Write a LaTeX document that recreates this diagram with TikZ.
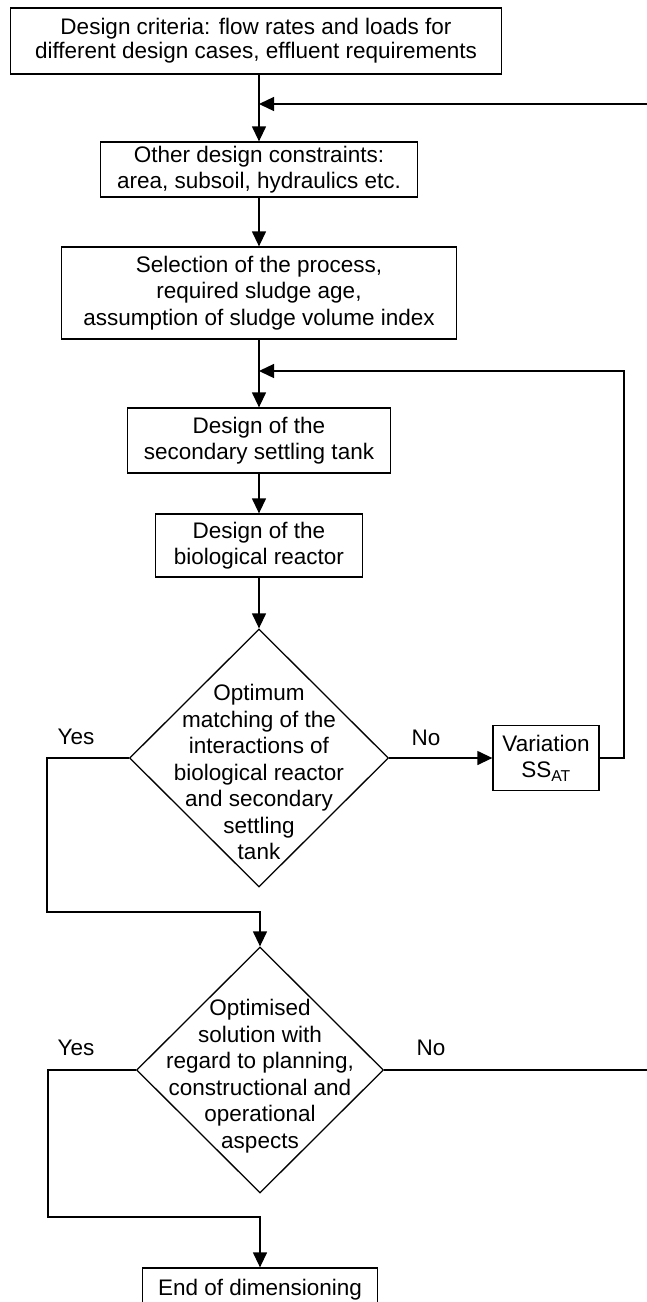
\documentclass[tikz,border=0pt]{standalone}
\usepackage{fontspec}
\setmainfont{Liberation Sans}
\usetikzlibrary{arrows.meta,shapes.geometric}
\begin{document}
\begin{tikzpicture}[x=1pt,y=-1pt,
  every node/.style={font=\fontsize{22.5}{26.5}\selectfont},
  box/.style={draw, line width=1.3pt, inner sep=0pt, align=center},
  dec/.style={draw, diamond, line width=1.3pt, inner sep=0pt, aspect=1},
  txt/.style={align=center, inner sep=0pt},
  conn/.style={line width=1.3pt},
  arr/.style={conn, -{Triangle[length=15pt,width=14pt]}},
]
\path[use as bounding box, clip] (0,0) rectangle (647,1302);
\fill[white] (0,0) rectangle (647,1302);

% boxes
\node[box, minimum width=491pt, minimum height=66pt, font=\fontsize{22.5}{24}\selectfont] (b1) at (256,41)
  {Design criteria: flow rates and loads for\\different design cases, effluent requirements};
\node[box, minimum width=317pt, minimum height=55pt] (b2) at (259,169.5)
  {Other design constraints:\\area, subsoil, hydraulics etc.};
\node[box, minimum width=395pt, minimum height=92pt] (b3) at (259,293)
  {Selection of the process,\\required sludge age,\\assumption of sludge volume index};
\node[box, minimum width=263pt, minimum height=65pt] (b4) at (259,440.5)
  {Design of the\\secondary settling tank};
\node[box, minimum width=207pt, minimum height=63pt] (b5) at (259,545.5)
  {Design of the\\biological reactor};
\node[dec, minimum width=259pt, minimum height=258pt] (d1) at (259,758) {};
\node[txt] (t1) at (259,772)
  {Optimum\\matching of the\\interactions of\\biological reactor\\and secondary\\settling\\tank};
\node[box, minimum width=106pt, minimum height=65pt] (v) at (546,758)
  {Variation\\SS\textsubscript{AT}};
\node[dec, minimum width=247pt, minimum height=246pt] (d2) at (260,1070) {};
\node[txt] (t2) at (260,1076)
  {Optimised\\solution with\\regard to planning,\\constructional and\\operational\\aspects};
\node[box, minimum width=235pt, minimum height=44pt] (e) at (260,1290)
  {End of dimensioning};

% labels
\node (no1) at (426,738) {No};
\node (yes1) at (76,737) {Yes};
\node (no2) at (431,1048) {No};
\node (yes2) at (76,1048) {Yes};

% connectors
\coordinate (e1) at (647,104);
\coordinate (j1) at (259,104);
\coordinate (j2) at (259,371);
\coordinate (c2) at (624,371);
\coordinate (ya) at (47,758);
\coordinate (yb) at (47,912);
\coordinate (e2) at (647,1070);
\coordinate (yc) at (48,1070);
\coordinate (yd) at (48,1217);

\draw[arr] (b2.north |- b1.south) -- (b2.north);
\draw[arr] (e1) -- (j1);
\draw[arr] (b2.south) -- (b3.north);
\draw[arr] (b3.south) -- (b4.north);
\draw[arr] (v.east) -| (c2) -- (j2);
\draw[arr] (b4.south) -- (b5.north);
\draw[arr] (b5.south) -- (d1.north);
\draw[arr] (d1.east) -- (v.west);
\draw[arr] (d1.west) -- (ya) -- (yb) -| (d2.north);
\draw[conn] (d2.east) -- (e2);
\draw[arr] (d2.west) -- (yc) -- (yd) -| (e.north);
\end{tikzpicture}
\end{document}
